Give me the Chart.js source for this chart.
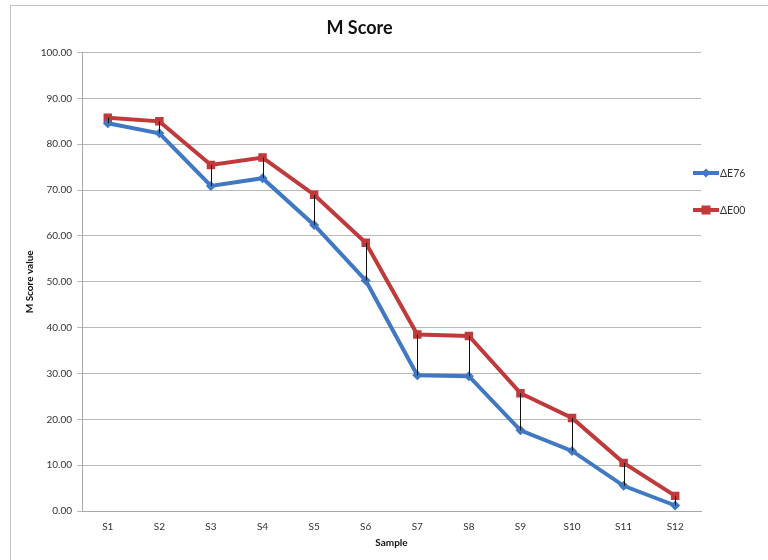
<!DOCTYPE html>
<html>
<head>
<meta charset="utf-8">
<script src="https://cdn.jsdelivr.net/npm/chart.js@4.4.1/dist/chart.umd.min.js"></script>
<style>
  body { margin: 0; background: #fff; }
  #wrap { position: relative; width: 768px; height: 560px; }
  #frame { position: absolute; left: 10px; top: 5px; right: -2px; bottom: -2px;
           border-left: 1px solid #c4c4c4; border-top: 1px solid #c4c4c4; }
</style>
</head>
<body>
<div id="wrap">
  <div id="frame"></div>
  <canvas id="mscore" width="768" height="560"></canvas>
</div>
<script>
// values
const samples = ["S1", "S2", "S3", "S4", "S5", "S6", "S7", "S8", "S9", "S10", "S11", "S12"];
const de76 = [84.6, 82.4, 70.9, 72.6, 62.4, 50.3, 29.6, 29.4, 17.6, 13.1, 5.5, 1.2];
const de00 = [85.8, 85.0, 75.5, 77.1, 69.0, 58.5, 38.5, 38.2, 25.7, 20.3, 10.5, 3.3];
const seriesNames = ["\u0394E76", "\u0394E00"];

const blue = '#4178c3';
const red = '#c0393b';
const fontFam = 'Lato, "Open Sans", sans-serif';

// Excel style high-low lines between the two series
const dropLines = {
  id: 'dropLines',
  afterDatasetsDraw(chart) {
    const a = chart.getDatasetMeta(0).data;
    const b = chart.getDatasetMeta(1).data;
    const c = chart.ctx;
    c.save();
    c.strokeStyle = '#111';
    c.lineWidth = 1;
    for (let i = 0; i < a.length; i++) {
      const x = Math.round(a[i].x) + 0.5;
      c.beginPath();
      c.moveTo(x, b[i].y);
      c.lineTo(x, a[i].y);
      c.stroke();
    }
    c.restore();
  }
};

// legend on the right, line + marker like the original
const sideLegend = {
  id: 'sideLegend',
  afterDraw(chart) {
    const c = chart.ctx;
    const rows = [173, 210];
    chart.data.datasets.forEach((ds, i) => {
      const y = rows[i];
      c.save();
      c.strokeStyle = ds.borderColor;
      c.lineWidth = 4;
      c.beginPath();
      c.moveTo(693, y);
      c.lineTo(719, y);
      c.stroke();
      c.fillStyle = ds.backgroundColor;
      if (i == 0) {
        c.beginPath();
        c.moveTo(706, y - 4.5); c.lineTo(710.5, y); c.lineTo(706, y + 4.5); c.lineTo(701.5, y);
        c.closePath();
        c.fill();
      } else {
        c.fillRect(701.5, y - 4.5, 9, 9);
      }
      c.fillStyle = '#333';
      c.font = '10.5px ' + fontFam;
      c.textBaseline = 'middle';
      c.fillText(ds.label, 720, y + 0.5);
      c.restore();
    });
  }
};

const ctx = document.getElementById('mscore').getContext('2d');
const chart = new Chart(ctx, {
  type: 'line',
  data: {
    labels: samples,
    datasets: [{
      label: seriesNames[0],
      data: de76,
      borderColor: blue,
      backgroundColor: blue,
      borderWidth: 4,
      pointStyle: 'rectRot',
      pointRadius: 5,
      pointBorderWidth: 0,
      tension: 0
    }, {
      label: seriesNames[1],
      data: de00,
      borderColor: red,
      backgroundColor: red,
      borderWidth: 4,
      pointStyle: 'rect',
      pointRadius: 6,
      pointBorderWidth: 0,
      tension: 0
    }]
  },
  options: {
    responsive: false,
    animation: false,
    layout: { padding: { left: 18, right: 67, top: 6, bottom: 0 } },
    plugins: {
      legend: { display: false },
      tooltip: { enabled: false },
      title: {
        display: true,
        text: 'M Score',
        color: '#111',
        font: { family: fontFam, size: 18, weight: 'bold' },
        padding: { top: 11, bottom: 14 }
      }
    },
    scales: {
      x: {
        offset: true,
        grid: { display: false, drawTicks: false },
        border: { display: true, color: '#a8a8a8' },
        ticks: { color: '#333', padding: 10, font: { family: fontFam, size: 10 } },
        title: { display: true, text: 'Sample', color: '#111',
                 font: { family: fontFam, size: 10, weight: 'bold' },
                 padding: { top: 0, bottom: 11 } },
        afterFit(s) { s.height = 49; }
      },
      y: {
        min: 0,
        max: 100,
        grid: { color: '#b8b8b8', tickLength: 5, drawTicks: true },
        border: { display: true, color: '#a8a8a8' },
        ticks: { stepSize: 10, color: '#333', padding: 5,
                 font: { family: fontFam, size: 10 },
                 callback: v => v.toFixed(2) },
        title: { display: true, text: 'M Score value', color: '#111',
                 font: { family: fontFam, size: 10, weight: 'bold' },
                 padding: { top: 6, bottom: 0 } },
        afterFit(s) { s.width = 64; }
      }
    }
  },
  plugins: [dropLines, sideLegend]
});
</script>
</body>
</html>
